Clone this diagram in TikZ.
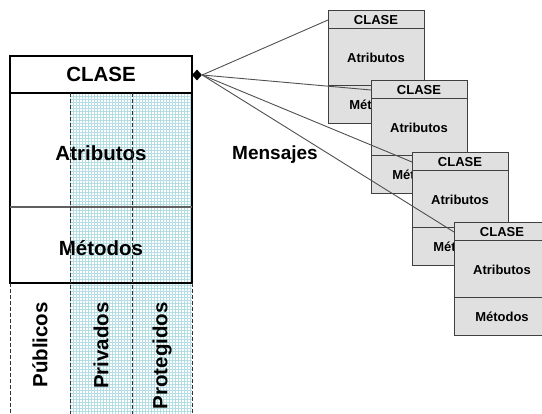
\documentclass[tikz,border=0pt]{standalone}
\usepackage{fontspec}
\setmainfont{Liberation Sans}
\usetikzlibrary{shapes.geometric}
\definecolor{gridcyan}{RGB}{180,222,228}
\definecolor{boxfill}{RGB}{224,224,224}
\definecolor{boxline}{RGB}{64,64,64}
\definecolor{wirecol}{RGB}{80,80,80}
\definecolor{sepgray}{RGB}{96,96,96}
\begin{document}
\begin{tikzpicture}[x=1pt,y=-1pt,
  bigtext/.style={font=\bfseries\fontsize{20.5}{24}\selectfont},
  mainpart/.style={draw=black,line width=1.1pt,rectangle,inner sep=0pt,outer sep=0pt,minimum width=182pt},
  smalltext/.style={font=\bfseries\fontsize{13}{15}\selectfont},
  smallpart/.style={draw=boxline,fill=boxfill,line width=1pt,rectangle,inner sep=0pt,outer sep=0pt,minimum width=96pt,smalltext},
  colsep/.style={draw=black!80,line width=0.9pt,dash pattern=on 4pt off 2pt},
  wire/.style={draw=wirecol,line width=0.9pt},
  gridline/.style={draw=gridcyan,line width=0.75pt}]
\clip (0,0) rectangle (542,414);

% fine grid behind the private and protected columns
\foreach \x in {70,73,...,190} \draw[gridline] (\x,93) -- (\x,414);
\foreach \y in {93,96,...,414} \draw[gridline] (70,\y) -- (192,\y);

% the class box: name, attributes, methods
\node[mainpart,minimum height=37pt,anchor=north west] (hdr) at (10,56) {};
\node[mainpart,minimum height=114pt,anchor=north] (attr) at (hdr.south) {};
\node[mainpart,minimum height=76pt,anchor=north] (meth) at (attr.south) {};
\draw[sepgray,line width=1.6pt] (attr.south west) -- (attr.south east);

\node[bigtext] (hdrtxt) at (101,74.5) {CLASE};
\node[bigtext] (attrtxt) at (101,153) {Atributos};
\node[bigtext] (methtxt) at (101,248) {Métodos};

% visibility columns
\draw[colsep] (10,283) -- (10,414);
\draw[colsep] (70,93) -- (70,414);
\draw[colsep] (132,93) -- (132,414);
\draw[colsep] (192,283) -- (192,414);

\node[bigtext,rotate=90,anchor=east,inner sep=0pt] (pub) at (40,302) {Públicos};
\node[bigtext,rotate=90,anchor=east,inner sep=0pt] (priv) at (101,302) {Privados};
\node[bigtext,rotate=90,anchor=east,inner sep=0pt] (prot) at (162,302) {Protegidos};

% stacked instances
\foreach \i/\x/\y in {1/328/11, 2/371/81, 3/412/153, 4/454/223} {
  \node[smallpart,minimum height=18pt,anchor=north west] (c\i-h) at (\x,\y) {CLASE};
  \node[smallpart,minimum height=57pt,anchor=north] (c\i-a) at (c\i-h.south) {Atributos};
  \node[smallpart,minimum height=38pt,anchor=north] (c\i-m) at (c\i-a.south) {Métodos};
}

% message links
\node[diamond,fill=black,inner sep=0pt,minimum width=10pt,minimum height=11pt] (dia) at (197,75) {};
\foreach \i in {1,...,4} \draw[wire] (dia.east) -- (c\i-h.west);

\node[font=\bfseries\fontsize{19}{22}\selectfont] (msg) at (275,155) {Mensajes};
\end{tikzpicture}
\end{document}
